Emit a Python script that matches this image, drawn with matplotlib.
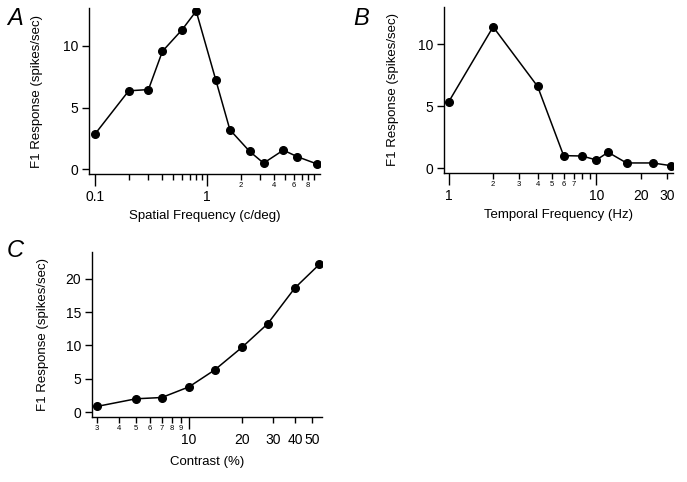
import matplotlib
matplotlib.use("Agg")
import matplotlib.pyplot as plt
from matplotlib.ticker import FixedLocator, FixedFormatter, NullLocator

plt.rcParams['font.family'] = ['Liberation Sans', 'DejaVu Sans']

# ---- data ----
sf_x = [0.1, 0.2, 0.3, 0.4, 0.6, 0.8, 1.2, 1.6, 2.4, 3.2, 4.8, 6.4, 9.6]
sf_y = [2.85, 6.35, 6.45, 9.55, 11.3, 12.8, 7.2, 3.2, 1.45, 0.5, 1.55, 1.02, 0.43]

tf_x = [1, 2, 4, 6, 8, 10, 12, 16, 24, 32]
tf_y = [5.35, 11.4, 6.6, 1.02, 0.99, 0.67, 1.29, 0.43, 0.43, 0.21]

con_x = [3, 5, 7, 10, 14, 20, 28, 40, 55]
con_y = [0.9, 2.04, 2.23, 3.82, 6.35, 9.72, 13.24, 18.6, 22.1]

ylabel = "F1 Response (spikes/sec)"

A_ticks_big = [0.1, 1]
A_big_labels = ["0.1", "1"]
A_ticks_small = [0.2, 0.3, 0.4, 0.5, 0.6, 0.7, 0.8, 0.9, 2, 3, 4, 5, 6, 7, 8, 9]
A_small_labels = ["", "", "", "", "", "", "", "", "2", "", "4", "", "6", "", "8", ""]

B_ticks_big = [1, 10, 20, 30]
B_big_labels = ["1", "10", "20", "30"]
B_ticks_small = [2, 3, 4, 5, 6, 7, 8, 9]
B_small_labels = ["2", "3", "4", "5", "6", "7", "", ""]

C_ticks_big = [10, 20, 30, 40, 50]
C_big_labels = ["10", "20", "30", "40", "50"]
C_ticks_small = [3, 4, 5, 6, 7, 8, 9]
C_small_labels = ["3", "4", "5", "6", "7", "8", "9"]

W, H = 687, 482
fig = plt.figure(figsize=(W / 100, H / 100), dpi=100)


def px_axes(l, t, r, b):
    return fig.add_axes([l / W, (H - b) / H, (r - l) / W, (b - t) / H])


def style(ax, x, y, xlim, ylim, yticks, big, bigl, small, smalll, long_ticks, xlabel, ylx, xly):
    ax.plot(x, y, color='black', lw=1.1, marker='o', ms=5.5, mfc='black', mec='black')
    ax.set_xscale('log')
    ax.set_xlim(*xlim)
    ax.set_ylim(*ylim)
    for s in ['top', 'right']:
        ax.spines[s].set_visible(False)
    for s in ['left', 'bottom']:
        ax.spines[s].set_linewidth(1.0)
    ax.xaxis.set_major_locator(FixedLocator(big))
    ax.xaxis.set_major_formatter(FixedFormatter(bigl))
    ax.xaxis.set_minor_locator(FixedLocator(small))
    ax.xaxis.set_minor_formatter(FixedFormatter(smalll))
    ax.tick_params(axis='x', which='major', direction='out', length=4, width=1,
                   labelsize=10, pad=7.5)
    ax.tick_params(axis='x', which='minor', direction='out', length=4, width=1,
                   labelsize=5.5, pad=1.5)
    ax.set_yticks(yticks)
    ax.yaxis.set_minor_locator(NullLocator())
    ax.tick_params(axis='y', which='major', direction='out', length=5, width=1,
                   labelsize=10, pad=3)
    for t, v in zip(ax.xaxis.get_major_ticks(), big):
        if v in long_ticks:
            t.tick1line.set_markersize(8.5)
    ax.set_xlabel(xlabel, fontsize=9.5)
    ax.set_ylabel(ylabel, fontsize=9.5)
    ax.yaxis.set_label_coords(ylx, 0.5)
    ax.xaxis.set_label_coords(0.5, xly)


axA = px_axes(89, 8, 320, 174)
style(axA, sf_x, sf_y, (0.0884, 10.2), (-0.38, 13.05), [0, 5, 10],
      A_ticks_big, A_big_labels, A_ticks_small, A_small_labels, [0.1, 1],
      "Spatial Frequency (c/deg)", -0.199, -0.218)

axB = px_axes(444, 7, 673, 173)
style(axB, tf_x, tf_y, (0.93, 33), (-0.38, 13.0), [0, 5, 10],
      B_ticks_big, B_big_labels, B_ticks_small, B_small_labels, [1, 10],
      "Temporal Frequency (Hz)", -0.197, -0.218)

axC = px_axes(92, 252, 322, 417)
style(axC, con_x, con_y, (2.81, 57), (-0.68, 23.96), [0, 5, 10, 15, 20],
      C_ticks_big, C_big_labels, C_ticks_small, C_small_labels, [10],
      "Contrast (%)", -0.187, -0.234)

fig.text(7 / W, 1 - 25 / H, "A", fontsize=17, fontstyle='italic')
fig.text(353 / W, 1 - 25 / H, "B", fontsize=17, fontstyle='italic')
fig.text(7 / W, 1 - 257 / H, "C", fontsize=17, fontstyle='italic')

fig.savefig("out.png", dpi=100)
